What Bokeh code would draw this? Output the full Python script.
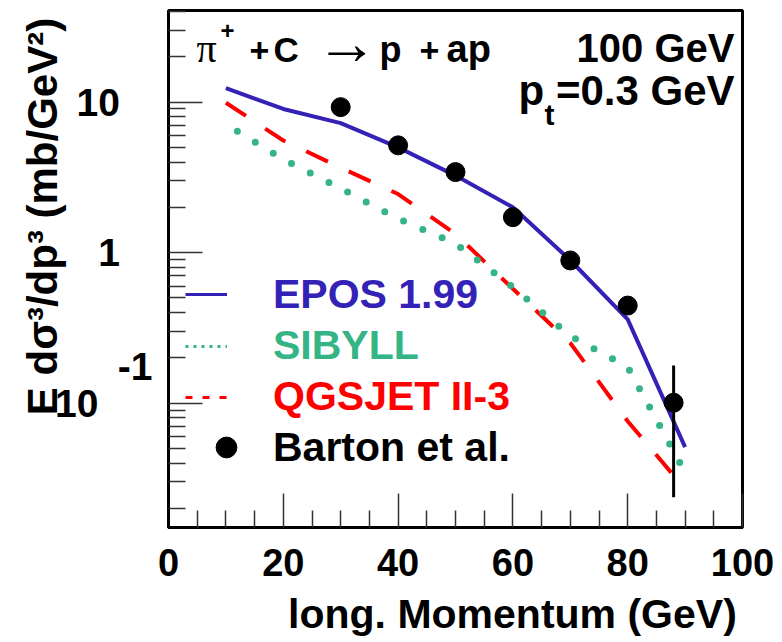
import math
from bokeh.plotting import figure
from bokeh.models import Range1d, FixedTicker, Label, Legend, LegendItem
from bokeh.embed import file_html
from bokeh.resources import INLINE

# ---------------- data ----------------
p_long = [10, 20, 30, 40, 50, 60, 70, 80, 90]
epos = [12.4, 9.0, 7.25, 5.0, 3.25, 2.0, 0.89, 0.36, 0.051]
sibyll_x = [12, 20, 30, 40, 50, 60, 70, 80, 90]
sibyll = [6.4, 4.17, 2.67, 1.68, 1.15, 0.589, 0.279, 0.174, 0.0347]
qgsjet = [9.9, 5.56, 3.67, 2.45, 1.33, 0.575, 0.251, 0.0759, 0.0269]
barton_x = [30, 40, 50, 60, 70, 80, 88]
barton_y = [9.26, 5.16, 3.43, 1.72, 0.887, 0.445, 0.1007]
err_x = [88]
err_lo = [0.0237]
err_hi = [0.178]

NB = "\u00a0"
x_ticks = [0, 20, 40, 60, 80, 100]
x_minor = [v for v in range(0, 101, 5) if v % 20 != 0]
y_ticks = [0.1, 1, 10]
y_labels = {
    0.1: NB + "-1\n10" + NB * 5 + "\n" + NB,
    1: "1" + NB * 3,
    10: "10" + NB * 3,
}
y_minor = [m * d for d in (0.01, 0.1, 1, 10) for m in range(2, 10) if 0.015 < m * d < 40.6]

series_names = ["EPOS 1.99", "SIBYLL", "QGSJET II-3", "Barton et al."]
x_title = "long. Momentum (GeV)"
y_title = "E d\u03c3\u00b3/dp\u00b3 (mb/GeV\u00b2)"

BLUE = "#3322b5"
GREEN = "#35b485"
RED = "#ff0000"
FONT = "Liberation Sans"

# ---------------- geometry ----------------
W, H = 780, 640
BL, BR, BT, BB = 168, 38, 10, 113
X0, X1 = 0, 100
Y0, Y1 = 0.01493, 40.6
FL, FR = BL, W - BR
FT, FB = BT, H - BB


def dx(px):
    return X0 + (px - FL) * (X1 - X0) / (FR - FL)


def dy(py):
    lt, lb = math.log10(Y1), math.log10(Y0)
    return 10 ** (lt - (py - FT) * (lt - lb) / (FB - FT))


p = figure(width=W, height=H, output_backend="svg", toolbar_location=None,
           x_range=Range1d(X0, X1), y_range=Range1d(Y0, Y1), y_axis_type="log",
           min_border_left=BL, min_border_right=BR, min_border_top=BT,
           min_border_bottom=BB)
p.xgrid.visible = False
p.ygrid.visible = False
p.outline_line_color = "black"
p.outline_line_width = 3
p.background_fill_color = "white"
p.border_fill_color = "white"

for ax in (p.xaxis[0], p.yaxis[0]):
    ax.major_tick_in = 34
    ax.major_tick_out = 0
    ax.minor_tick_in = 17
    ax.minor_tick_out = 0
    ax.major_tick_line_color = "#333333"
    ax.minor_tick_line_color = "#333333"
    ax.major_tick_line_width = 1.5
    ax.minor_tick_line_width = 1.5
    ax.axis_line_width = 3
    ax.axis_line_color = "black"
    ax.major_label_text_font = FONT
    ax.major_label_text_font_style = "bold"
    ax.major_label_text_color = "black"
    ax.axis_label_text_font = FONT
    ax.axis_label_text_font_style = "bold"
    ax.axis_label_text_color = "black"
    ax.axis_label_align = "center"

p.xaxis.ticker = FixedTicker(ticks=x_ticks, minor_ticks=x_minor)
p.xaxis.major_label_text_font_size = "38px"
p.xaxis.major_label_standoff = 21
# leading no-break spaces push the centred title towards the right end
p.xaxis.axis_label = NB * 10 + x_title
p.xaxis.axis_label_text_font_size = "41px"
p.xaxis.axis_label_standoff = 12

p.yaxis.ticker = FixedTicker(ticks=y_ticks, minor_ticks=y_minor)
p.yaxis.major_label_overrides = y_labels
p.yaxis.major_label_text_font_size = "39px"
p.yaxis.major_label_text_line_height = 0.85
p.yaxis.major_label_standoff = 16
p.yaxis.axis_label = NB * 9 + y_title
p.yaxis.axis_label_text_font_size = "42px"
p.yaxis.axis_label_standoff = -14

# ---------------- curves ----------------
p.line(p_long, epos, line_color=BLUE, line_width=4)
p.line(p_long, qgsjet, line_color=RED, line_width=4, line_dash="24 23")
p.line(sibyll_x, sibyll, line_color=GREEN, line_width=7, line_dash="0 21",
       line_cap="round")
p.segment(err_x, err_lo, err_x, err_hi, line_color="black", line_width=3)
p.scatter(barton_x, barton_y, size=19, color="black")

# ---------------- legend (one per entry, coloured text) ----------------
nan = [float("nan")]
leg_r = [
    p.line(nan, nan, line_color=BLUE, line_width=3),
    p.line(nan, nan, line_color=GREEN, line_width=3, line_dash="3 5"),
    p.line(nan, nan, line_color=RED, line_width=3, line_dash="7 10"),
    p.scatter(nan, nan, size=19, color="black"),
]
leg_colors = [BLUE, GREEN, RED, "black"]
leg_bottom = [207, 155.5, 104.5, 54]
leg_gw = [42, 42, 42, 82]
leg_so = [46, 46, 46, 6]
for name, r, c, yb, gw, so in zip(series_names, leg_r, leg_colors, leg_bottom, leg_gw, leg_so):
    lg = Legend(items=[LegendItem(label=name, renderers=[r])], location=(17, yb),
                glyph_width=gw, glyph_height=52, label_height=52, label_standoff=so,
                padding=0, margin=0, border_line_alpha=0, background_fill_alpha=0,
                label_text_font=FONT, label_text_font_style="bold",
                label_text_font_size="41px", label_text_color=c)
    p.add_layout(lg)


def lab(text, px, py, size, align="left", font=FONT, style="bold", mid=None):
    # py is the text baseline; labels are anchored at their vertical middle
    ym = py - 0.35 * size if mid is None else mid
    p.add_layout(Label(x=dx(px), y=dy(ym), text=text, text_font=font,
                       text_font_style=style, text_font_size=f"{size}px",
                       text_align=align, text_baseline="middle",
                       text_color="black"))


# header text
lab("\u03c0", 196, 61.7, 40, font="Liberation Serif", style="normal")
lab("+", 220, 38, 24)
lab("+", 249, 61.7, 34)
lab("C", 273, 61.7, 35)
lab("\u2192", 315, 0, 62, style="normal", mid=42)
lab("p", 379, 61.7, 36)
lab("+", 419, 61.7, 34)
lab("ap", 446, 61.7, 38)
lab("100 GeV", 734, 61.7, 40, align="right")
lab("p", 518, 105, 42)
lab("t", 544, 124, 30)
lab("=0.3 GeV", 734, 105, 42, align="right")

open("out.html", "w").write(file_html(p, INLINE))
